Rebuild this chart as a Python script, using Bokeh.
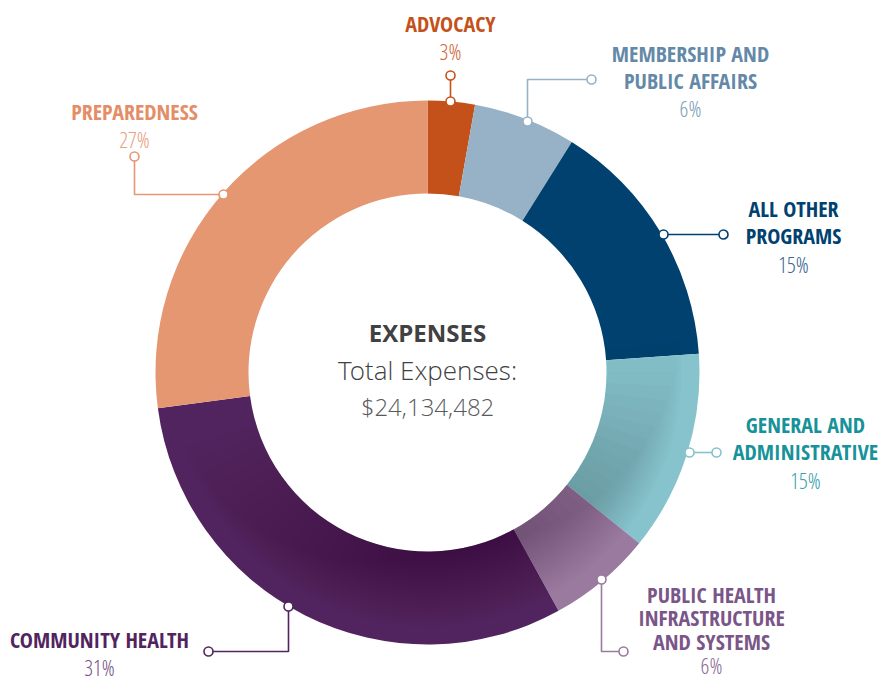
import math
from bokeh.plotting import figure
from bokeh.models import Range1d
from bokeh.core.properties import value
from bokeh.embed import file_html
from bokeh.resources import INLINE

# ---- data ----
categories = ["ADVOCACY", "MEMBERSHIP AND\nPUBLIC AFFAIRS", "ALL OTHER\nPROGRAMS",
              "GENERAL AND\nADMINISTRATIVE", "PUBLIC HEALTH\nINFRASTRUCTURE\nAND SYSTEMS",
              "COMMUNITY HEALTH", "PREPAREDNESS"]
shares = [2.8, 6.1, 15.0, 11.9, 6.2, 30.9, 27.1]          # drawn share of ring (%)
pct_labels = ["3%", "6%", "15%", "15%", "6%", "31%", "27%"]
seg_colors = ["#c5511a", "#97b2c6", "#00416f", "#86c3cc", "#9a7b9f", "#52245f", "#e59772"]
name_colors = ["#c5511a", "#6489a8", "#00416f", "#17929a", "#7a5688", "#52245f", "#e48d66"]
pct_colors = ["#d0663a", "#7e9fba", "#3d6590", "#3aa2a9", "#8d6c98", "#7a5688", "#e9a17f"]
center_title = "EXPENSES"
center_sub = "Total Expenses:"
center_total = "$24,134,482"

W, H = 880, 681
def Y(sy):
    return H - sy

p = figure(width=W, height=H, output_backend="svg", toolbar_location=None,
           x_range=Range1d(0, W), y_range=Range1d(0, H), min_border=0)
p.axis.visible = False
p.grid.visible = False
p.outline_line_color = None
p.background_fill_color = "white"
p.border_fill_color = "white"

cx, cy = 427, Y(372)
r_in, r_out = 179, 272

total = sum(shares)
cum = 0.0
starts, ends = [], []
for s in shares:
    a0 = cum / total * 2 * math.pi
    cum += s
    a1 = cum / total * 2 * math.pi
    starts.append(math.pi / 2 - a0)
    ends.append(math.pi / 2 - a1)

p.annular_wedge(x=[cx] * len(shares), y=[cy] * len(shares), inner_radius=r_in, outer_radius=r_out,
                start_angle=starts, end_angle=ends, direction="clock",
                fill_color=seg_colors, line_color=None)

# soft inner shadow (darker near the hole, lower right / bottom)
N = 22
mid = math.radians(168)
for i in range(N):
    span = math.radians(170) * (1 - i / (N + 3))
    a0 = mid - span / 2
    a1 = mid + span / 2
    p.annular_wedge(x=cx, y=cy, inner_radius=r_in, outer_radius=r_in + 75 * (1 - i / N),
                    start_angle=math.pi / 2 - a0, end_angle=math.pi / 2 - a1, direction="clock",
                    fill_color="black", fill_alpha=0.01, line_color=None)

# leader lines (screen coordinates of the layout)
leaders = [
    [(450, 101), (450, 75)],
    [(527, 121), (527, 79), (591, 79)],
    [(663, 234), (723, 234)],
    [(689, 452), (716, 452)],
    [(601, 579), (601, 651), (623, 651)],
    [(288, 606), (288, 651), (208, 651)],
    [(223, 194), (134, 194), (134, 156)],
]
for pts, col in zip(leaders, seg_colors):
    p.line([q[0] for q in pts], [Y(q[1]) for q in pts], line_color=col, line_width=1.6)
    p.scatter([pts[0][0], pts[-1][0]], [Y(pts[0][1]), Y(pts[-1][1])], size=9,
              fill_color="white", line_color=col, line_width=1.6)

FONT_B = "'Open Sans Condensed', 'Noto Sans Condensed', 'DejaVu Sans Condensed', Roboto, sans-serif"
FONT_L = "'Open Sans Condensed Light', 'Noto Sans Condensed Light', 'Open Sans Condensed', Roboto, sans-serif"
FONT_C = "'Open Sans', Roboto, sans-serif"
FONT_CL = "'Open Sans Light', 'Open Sans', Roboto, sans-serif"
# label anchor: (center x, y of first line), line step
anchors = [(450, 22), (690, 52), (793, 207), (805, 423), (711, 593), (99, 638), (134, 110)]
steps = [27, 27, 27.5, 27.5, 23.5, 27, 27]
for name, pct, (ax, ay), st, nc, pc in zip(categories, pct_labels, anchors, steps, name_colors, pct_colors):
    lines = name.split("\n")
    for i, ln in enumerate(lines):
        p.text(x=[ax], y=[Y(ay + i * st)], text=[ln], text_align="center", text_baseline="middle",
               text_font=value(FONT_B), text_font_style="bold", text_font_size="22px", text_color=nc)
    p.text(x=[ax], y=[Y(ay + len(lines) * st + 1)], text=[pct], text_align="center",
           text_baseline="middle", text_font=value(FONT_L), text_font_size="22px", text_color=pc)

p.text(x=[cx], y=[Y(332)], text=[center_title], text_align="center", text_baseline="middle",
       text_font=value(FONT_C), text_font_style="bold", text_font_size="24px", text_color="#414042")
p.text(x=[cx], y=[Y(369)], text=[center_sub], text_align="center", text_baseline="middle",
       text_font=value(FONT_CL), text_font_size="26px", text_color="#414042")
p.text(x=[cx], y=[Y(406)], text=[center_total], text_align="center", text_baseline="middle",
       text_font=value(FONT_CL), text_font_size="24px", text_color="#58595b")

open("out.html", "w").write(file_html(p, INLINE))
